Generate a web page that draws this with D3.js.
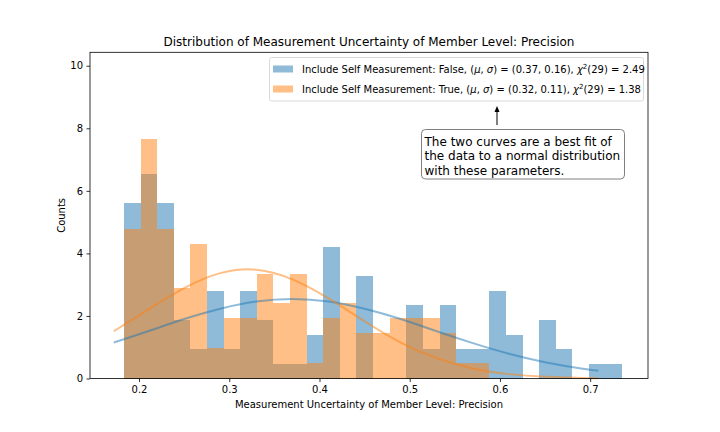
<!DOCTYPE html>
<html>
<head>
<meta charset="utf-8">
<script src="https://cdn.jsdelivr.net/npm/d3@7"></script>
<style>
  html, body { margin: 0; padding: 0; background: #fff; }
  svg text { font-family: "DejaVu Sans", sans-serif; fill: #000; }
</style>
</head>
<body>
<svg id="chart" width="720" height="432"></svg>
<script>
// ---- data ----
const binStart = 0.18337;
const binWidth = 0.018403;
const falseDensity = [5.61, 6.54, 5.61, 1.86, 0.93, 2.80, 0.93, 2.80, 1.86, 0.47,
                      0.47, 1.40, 4.20, 0, 3.27, 0, 0, 2.34, 0.93, 2.34,
                      0.93, 0.93, 2.80, 1.40, 0, 1.86, 0.93, 0, 0.47, 0.47];
const trueDensity  = [4.79, 7.66, 4.79, 2.88, 4.31, 0.96, 1.92, 1.92, 3.35, 2.40,
                      3.35, 0.48, 1.92, 2.40, 1.44, 1.44, 1.92, 1.92, 1.92, 1.44,
                      0.48, 0.48, 0, 0, 0, 0, 0, 0, 0, 0];
const curveX     = [0.172, 0.21, 0.25, 0.29, 0.33, 0.37, 0.41, 0.45, 0.49, 0.53, 0.57, 0.61, 0.65, 0.69, 0.709];
const falseCurve = [1.15, 1.51, 1.90, 2.23, 2.46, 2.54, 2.46, 2.23, 1.90, 1.51, 1.13, 0.79, 0.52, 0.32, 0.25];
const trueCurve  = [1.51, 2.20, 2.89, 3.37, 3.48, 3.17, 2.56, 1.83, 1.15, 0.65, 0.32, 0.14, 0.054, 0.019, 0.011];
const xTicks = [0.2, 0.3, 0.4, 0.5, 0.6, 0.7];
const yTicks = [0, 2, 4, 6, 8, 10];
const titleText = "Distribution of Measurement Uncertainty of Member Level: Precision";
const xLabel = "Measurement Uncertainty of Member Level: Precision";
const yLabel = "Counts";
const legendEntries = [
  {name: "False", mu: "0.37", sigma: "0.16", chi: "2.49"},
  {name: "True",  mu: "0.32", sigma: "0.11", chi: "1.38"}
];
const noteLines = ["The two curves are a best fit of", "the data to a normal distribution", "with these parameters."];

// ---- layout ----
const svg = d3.select("#chart");
const L = 90, R = 648, T = 52.3, B = 378.5;
const x = d3.scaleLinear().domain([0.14566, 0.76408]).range([L, R]);
const y = d3.scaleLinear().domain([0, 10.43]).range([B, T]);
const blue = "#1f77b4", orange = "#ff7f0e";

const g = svg.append("g");

function bars(data, color) {
  g.append("g").selectAll("rect").data(data).join("rect")
    .attr("x", (d, i) => x(binStart + i * binWidth))
    .attr("width", (d, i) => x(binStart + (i + 1) * binWidth) - x(binStart + i * binWidth))
    .attr("y", d => y(d))
    .attr("height", d => y(0) - y(d))
    .attr("fill", color)
    .attr("fill-opacity", 0.5)
    .attr("shape-rendering", "crispEdges");
}
bars(falseDensity, blue);
bars(trueDensity, orange);

const line = d3.line().x(d => x(d[0])).y(d => y(d[1])).curve(d3.curveNatural);
g.append("path").datum(curveX.map((v, i) => [v, falseCurve[i]]))
  .attr("d", line).attr("fill", "none").attr("stroke", blue)
  .attr("stroke-width", 2).attr("stroke-opacity", 0.5);
g.append("path").datum(curveX.map((v, i) => [v, trueCurve[i]]))
  .attr("d", line).attr("fill", "none").attr("stroke", orange)
  .attr("stroke-width", 2).attr("stroke-opacity", 0.5);

// axes
const xAxis = d3.axisBottom(x).tickValues(xTicks).tickFormat(d3.format(".1f")).tickSize(3.5).tickPadding(3.5);
const yAxis = d3.axisLeft(y).tickValues(yTicks).tickFormat(d3.format("d")).tickSize(3.5).tickPadding(3.5);
const gx = svg.append("g").attr("transform", `translate(0,${B})`).call(xAxis);
const gy = svg.append("g").attr("transform", `translate(${L},0)`).call(yAxis);
[gx, gy].forEach(a => {
  a.select(".domain").remove();
  a.selectAll("line").attr("stroke", "#000").attr("stroke-width", 0.8);
  a.selectAll("text").attr("font-size", 10).attr("font-family", "DejaVu Sans").attr("fill", "#000");
});

// spines
svg.append("rect").attr("x", L).attr("y", T).attr("width", R - L).attr("height", B - T)
  .attr("fill", "none").attr("stroke", "#000").attr("stroke-width", 0.8);

// title and labels
svg.append("text").attr("x", (L + R) / 2).attr("y", 46).attr("text-anchor", "middle")
  .attr("font-size", 12).text(titleText);
svg.append("text").attr("x", (L + R) / 2).attr("y", 408).attr("text-anchor", "middle")
  .attr("font-size", 10).text(xLabel);
svg.append("text").attr("transform", `translate(64.5,${(T + B) / 2}) rotate(-90)`)
  .attr("text-anchor", "middle").attr("font-size", 10).text(yLabel);

// legend
const lg = svg.append("g");
lg.append("rect").attr("x", 269.5).attr("y", 57.5).attr("width", 374).attr("height", 43.5)
  .attr("rx", 2).attr("fill", "#fff").attr("fill-opacity", 0.8)
  .attr("stroke", "#d0d0d0").attr("stroke-width", 0.8);
legendEntries.forEach((e, i) => {
  const cy = 69 + i * 20;
  lg.append("rect").attr("x", 273).attr("y", cy - 3.5).attr("width", 20).attr("height", 7)
    .attr("fill", i === 0 ? blue : orange).attr("fill-opacity", 0.5);
  const t = lg.append("text").attr("x", 302).attr("y", cy + 3.5).attr("font-size", 10);
  t.append("tspan").text(`Include Self Measurement: ${e.name}, (`);
  t.append("tspan").attr("font-style", "italic").text("μ");
  t.append("tspan").text(", ");
  t.append("tspan").attr("font-style", "italic").text("σ");
  t.append("tspan").text(`) = (${e.mu}, ${e.sigma}),  `);
  t.append("tspan").attr("font-style", "italic").text("χ");
  t.append("tspan").attr("font-size", 7).attr("dy", -4).text("2");
  t.append("tspan").attr("dy", 4).text(`(29) = ${e.chi}`);
});

// annotation
const ag = svg.append("g");
ag.append("line").attr("x1", 497).attr("y1", 125).attr("x2", 497).attr("y2", 110)
  .attr("stroke", "#000").attr("stroke-width", 1);
ag.append("path").attr("d", "M497,106 L494.5,112 L499.5,112 Z").attr("fill", "#000");
ag.append("rect").attr("x", 421.5).attr("y", 129.5).attr("width", 203).attr("height", 49.5)
  .attr("rx", 4).attr("fill", "#fff").attr("stroke", "#808080").attr("stroke-width", 1);
noteLines.forEach((s, i) => {
  ag.append("text").attr("x", 424.5).attr("y", 146 + i * 14.3).attr("font-size", 12).text(s);
});
</script>
</body>
</html>
